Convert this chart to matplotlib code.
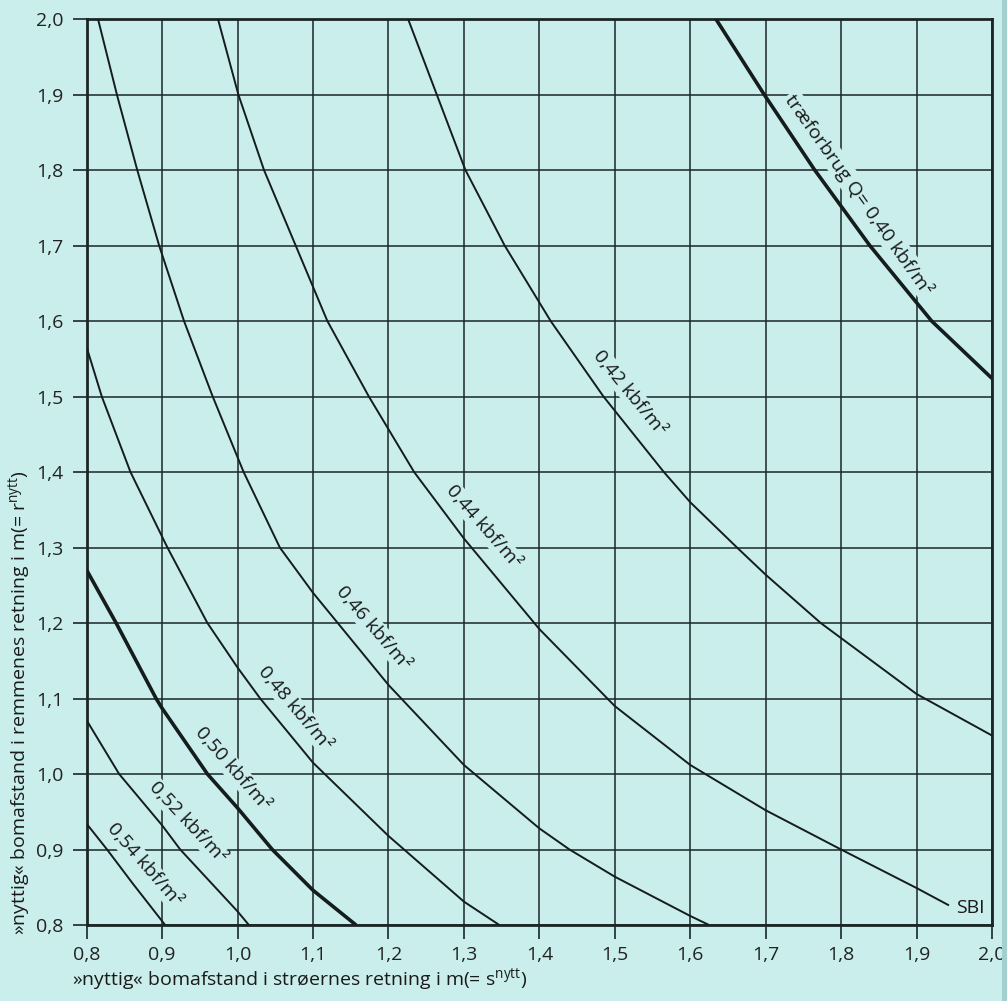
import math
import matplotlib
matplotlib.use("Agg")
import matplotlib.pyplot as plt
from matplotlib.patches import Rectangle
from matplotlib.transforms import offset_copy

plt.rcParams['font.family'] = ['Open Sans', 'DejaVu Sans']
plt.rcParams['mathtext.fontset'] = 'custom'
plt.rcParams['mathtext.rm'] = 'Open Sans'

BG = '#c9eeec'
INK = '#1b2626'
FS = 14

# ---- data (s = x, r = y) ----
q040_s = [1.634, 1.698, 1.765, 1.838, 1.920, 2.000]
q040_r = [2.000, 1.900, 1.800, 1.700, 1.600, 1.524]

q042_s = [1.226, 1.264, 1.302, 1.354, 1.415, 1.485, 1.565, 1.600, 1.662, 1.700, 1.773, 1.800, 1.900, 2.000]
q042_r = [2.000, 1.900, 1.800, 1.700, 1.600, 1.500, 1.400, 1.360, 1.300, 1.264, 1.200, 1.180, 1.106, 1.051]

q044_s = [0.974, 1.001, 1.035, 1.077, 1.119, 1.174, 1.234, 1.300, 1.400, 1.500, 1.600, 1.700, 1.800, 1.900, 1.943]
q044_r = [2.000, 1.900, 1.800, 1.700, 1.600, 1.500, 1.400, 1.312, 1.192, 1.090, 1.012, 0.952, 0.900, 0.849, 0.826]

q046_s = [0.815, 0.840, 0.867, 0.896, 0.929, 0.967, 1.008, 1.056, 1.100, 1.200, 1.300, 1.400, 1.440, 1.500, 1.600, 1.625]
q046_r = [2.000, 1.900, 1.800, 1.700, 1.600, 1.500, 1.400, 1.300, 1.240, 1.118, 1.012, 0.928, 0.900, 0.864, 0.812, 0.800]

q048_s = [0.800, 0.820, 0.858, 0.907, 0.960, 1.000, 1.030, 1.100, 1.200, 1.300, 1.347]
q048_r = [1.565, 1.500, 1.400, 1.300, 1.200, 1.141, 1.100, 1.015, 0.918, 0.831, 0.800]

q050_s = [0.800, 0.839, 0.892, 0.900, 0.960, 1.000, 1.046, 1.100, 1.157]
q050_r = [1.270, 1.200, 1.100, 1.087, 1.000, 0.955, 0.900, 0.846, 0.800]

q052_s = [0.800, 0.843, 0.900, 0.924, 1.000, 1.015]
q052_r = [1.071, 1.000, 0.932, 0.900, 0.818, 0.800]

q054_s = [0.800, 0.827, 0.861, 0.904]
q054_r = [0.934, 0.900, 0.855, 0.800]

curves = [
    (q040_s, q040_r, True),
    (q042_s, q042_r, False),
    (q044_s, q044_r, False),
    (q046_s, q046_r, False),
    (q048_s, q048_r, False),
    (q050_s, q050_r, True),
    (q052_s, q052_r, False),
    (q054_s, q054_r, False),
]

label_texts = ['træforbrug Q= 0,40 kbf/m²', '0,42 kbf/m²', '0,44 kbf/m²', '0,46 kbf/m²',
               '0,48 kbf/m²', '0,50 kbf/m²', '0,52 kbf/m²', '0,54 kbf/m²']
label_s = [1.817, 1.513, 1.320, 1.174, 1.070, 0.987, 0.928, 0.870]
label_r = [1.763, 1.500, 1.322, 1.188, 1.082, 1.002, 0.930, 0.874]
label_rot = [-54.7, -50.8, -49, -49.5, -50, -49, -47, -49]

ticks = [0.8, 0.9, 1.0, 1.1, 1.2, 1.3, 1.4, 1.5, 1.6, 1.7, 1.8, 1.9, 2.0]
tick_labels = ['0,8', '0,9', '1,0', '1,1', '1,2', '1,3', '1,4', '1,5', '1,6', '1,7', '1,8', '1,9', '2,0']

# ---- figure ----
fig = plt.figure(figsize=(10.07, 10.01), dpi=100, facecolor=BG)
fig.patches.append(Rectangle((0.9955, 0), 0.0045, 1, transform=fig.transFigure,
                             facecolor='#a3cfcf', edgecolor='none', zorder=0))
ax = fig.add_axes([0.0861, 0.0759, 0.8990, 0.9051], facecolor=BG)

ax.set_xlim(0.8, 2.0)
ax.set_ylim(0.8, 2.0)
ax.set_xticks(ticks)
ax.set_yticks(ticks)
ax.set_xticklabels(tick_labels)
ax.set_yticklabels(tick_labels)
ax.set_axisbelow(True)
ax.grid(True, color=INK, linewidth=1.1)
ax.tick_params(direction='out', length=10, width=1.2, labelsize=FS,
               colors=INK, labelcolor='#222222')
ax.tick_params(axis='y', pad=7)
ax.tick_params(axis='x', pad=5)
for sp in ax.spines.values():
    sp.set_linewidth(2.0)
    sp.set_color(INK)

for s, r, thick in curves:
    ax.plot(s, r, color='#141c1c', linewidth=2.6 if thick else 1.4, zorder=4,
            solid_capstyle='butt', solid_joinstyle='round')

GAP = 4.5  # points, pushes each label off its curve (towards upper right)
for t, x, y, rot in zip(label_texts, label_s, label_r, label_rot):
    a = math.radians(rot)
    tr = offset_copy(ax.transData, fig=fig, x=-math.sin(a) * GAP, y=math.cos(a) * GAP,
                     units='points')
    ax.text(x, y, t, rotation=rot, rotation_mode='anchor', ha='center', va='center',
            fontsize=FS, color='#1a1a1a', zorder=3, transform=tr,
            bbox=dict(boxstyle='square,pad=0.08', facecolor=BG, edgecolor='none'))

ax.text(1.971, 0.823, 'SBI', ha='center', va='center', fontsize=FS, color='#1a1a1a',
        zorder=5, bbox=dict(boxstyle='square,pad=0.05', facecolor=BG, edgecolor='none'))

fig.text(72 / 1007, 1 - 980 / 1001,
         '»nyttig« bomafstand i strøernes retning i m(= s$^{\\mathregular{nytt}}$)',
         fontsize=FS, ha='left', va='center', color='#1a1a1a')
fig.text(20 / 1007, 1 - 935 / 1001,
         '»nyttig« bomafstand i remmenes retning i m(= r$^{\\mathregular{nytt}}$)',
         fontsize=FS, ha='center', va='bottom', rotation=90, color='#1a1a1a')

fig.savefig('out.png', dpi=100, facecolor=BG)
